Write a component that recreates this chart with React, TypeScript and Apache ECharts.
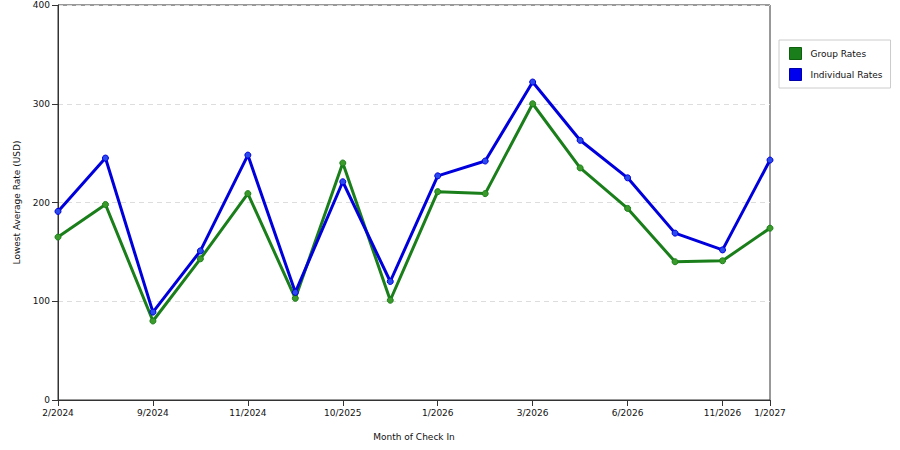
import React, { useEffect, useRef } from "react";
import * as echarts from "echarts";

const categories = [
  "2/2024", "5/2024", "9/2024", "10/2024", "11/2024", "12/2024", "10/2025", "12/2025",
  "1/2026", "2/2026", "3/2026", "4/2026", "6/2026", "9/2026", "11/2026", "1/2027",
];
const groupRates = [165, 198, 80, 143, 209, 103, 240, 101, 211, 209, 300, 235, 194, 140, 141, 174];
const individualRates = [191, 245, 89, 151, 248, 109, 221, 120, 227, 242, 322, 263, 225, 169, 152, 243];
const yTicks = { min: 0, max: 400, interval: 100 };

const FONT = "DejaVu Sans";

export default function App() {
  const ref = useRef<HTMLDivElement>(null);
  useEffect(() => {
    if (!ref.current) return;
    const chart = echarts.init(ref.current, undefined, { renderer: "svg" });
    const showIdx = (i: number) => i % 2 === 0 || i === categories.length - 1;
    chart.setOption({
      animation: false,
      backgroundColor: "#ffffff",
      textStyle: { fontFamily: FONT },
      grid: {
        left: 58,
        right: 130,
        top: 5,
        bottom: 50,
        show: true,
        borderColor: "#333",
        borderWidth: 1,
      },
      legend: {
        orient: "vertical",
        left: 779,
        top: 40,
        padding: [7, 8, 7, 10],
        itemWidth: 12,
        itemHeight: 12,
        itemGap: 8,
        borderColor: "#ccc",
        borderWidth: 1,
        backgroundColor: "#fff",
        textStyle: { fontSize: 9, color: "#111", fontFamily: FONT, padding: [0, 0, 0, 4] },
        data: [
          { name: "Group Rates", icon: "rect", itemStyle: { color: "#1a7f1a", borderColor: "#0f5f0f", borderWidth: 1 } },
          { name: "Individual Rates", icon: "rect", itemStyle: { color: "#0000ee", borderColor: "#0000aa", borderWidth: 1 } },
        ],
      },
      xAxis: {
        type: "category",
        data: categories,
        boundaryGap: false,
        name: "Month of Check In",
        nameLocation: "middle",
        nameGap: 32,
        nameTextStyle: { fontSize: 9, color: "#111", fontFamily: FONT },
        axisLine: { lineStyle: { color: "#333", width: 1 } },
        axisTick: { show: true, length: 6, interval: (i: number) => showIdx(i), lineStyle: { color: "#333" } },
        axisLabel: { interval: (i: number) => showIdx(i), fontSize: 9, color: "#111", margin: 8, fontFamily: FONT },
        splitLine: { show: false },
      },
      yAxis: {
        type: "value",
        min: yTicks.min,
        max: yTicks.max,
        interval: yTicks.interval,
        name: "Lowest Average Rate (USD)",
        nameLocation: "middle",
        nameGap: 36,
        nameTextStyle: { fontSize: 9, color: "#111", fontFamily: FONT },
        axisLine: { show: true, lineStyle: { color: "#333", width: 1 } },
        axisTick: { show: true, length: 6, lineStyle: { color: "#333" } },
        axisLabel: { fontSize: 9, color: "#111", margin: 8, fontFamily: FONT },
        splitLine: { show: true, lineStyle: { color: "#ddd", type: [5, 4], width: 1 } },
      },
      series: [
        {
          name: "Group Rates",
          type: "line",
          data: groupRates,
          symbol: "circle",
          symbolSize: 6,
          lineStyle: { color: "#1a7f1a", width: 3 },
          itemStyle: { color: "#3a9a2a", borderColor: "#1a7f1a", borderWidth: 1 },
          z: 3,
        },
        {
          name: "Individual Rates",
          type: "line",
          data: individualRates,
          symbol: "circle",
          symbolSize: 6,
          lineStyle: { color: "#0000dd", width: 3 },
          itemStyle: { color: "#2a4aee", borderColor: "#0000dd", borderWidth: 1 },
          z: 4,
        },
      ],
    });
    return () => chart.dispose();
  }, []);
  return <div ref={ref} style={{ width: 900, height: 450, position: "absolute", left: 0, top: 0 }} />;
}
